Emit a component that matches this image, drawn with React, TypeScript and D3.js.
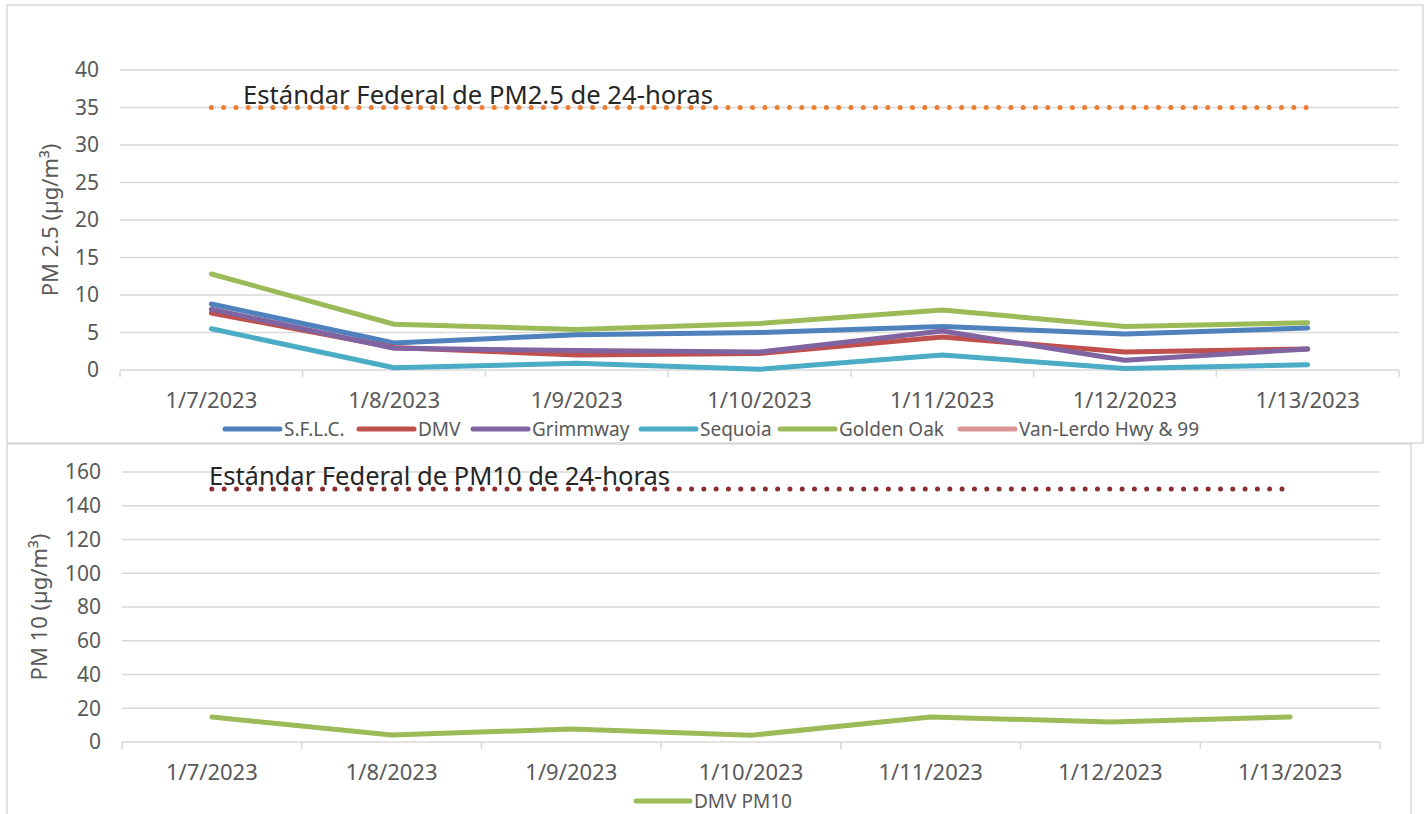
import React from 'react';
import * as d3 from 'd3';

// data
const dates = ['1/7/2023', '1/8/2023', '1/9/2023', '1/10/2023', '1/11/2023', '1/12/2023', '1/13/2023'];
const sflc = [8.8, 3.6, 4.7, 5.0, 5.8, 4.8, 5.6];
const dmv = [7.6, 3.0, 2.0, 2.2, 4.4, 2.4, 2.8];
const grimmway = [8.1, 2.9, 2.6, 2.4, 5.2, 1.3, 2.8];
const sequoia = [5.5, 0.3, 0.9, 0.1, 2.0, 0.2, 0.7];
const goldenOak = [12.8, 6.1, 5.4, 6.2, 8.0, 5.8, 6.3];
const vanLerdo: number[] = [];
const dmvPm10 = [14.8, 4.1, 7.7, 4.0, 14.8, 11.9, 14.8];
const pm25Std = 35;
const pm10Std = 150;
const pm25Ticks = [0, 5, 10, 15, 20, 25, 30, 35, 40];
const pm10Ticks = [0, 20, 40, 60, 80, 100, 120, 140, 160];

const series = [
  { name: 'S.F.L.C.', values: sflc, color: '#4F81BD' },
  { name: 'DMV', values: dmv, color: '#C0504D' },
  { name: 'Grimmway', values: grimmway, color: '#8064A2' },
  { name: 'Sequoia', values: sequoia, color: '#4BACC6' },
  { name: 'Golden Oak', values: goldenOak, color: '#9BBB59' },
  { name: 'Van-Lerdo Hwy & 99', values: vanLerdo, color: '#D99694' },
];

const font = '"Noto Sans", "Open Sans", sans-serif';
const grid = '#D9D9D9';
const txt = '#595959';

// scales
const x1 = d3.scaleBand().domain(dates).range([120, 1399]);
const y1 = d3.scaleLinear().domain([0, 40]).range([370, 70]);
const x2 = d3.scaleBand().domain(dates).range([122, 1380]);
const y2 = d3.scaleLinear().domain([0, 160]).range([742, 472]);

const Panel = ({ x, y, ticks, std, stdColor, stdLabel, labelX, labelW, title, titleX, lines }: any) => {
  const bw = x.bandwidth();
  const cx = (d: string) => x(d) + bw / 2;
  const line = d3.line<number>().x((d, i) => cx(dates[i])).y(d => y(d));
  const [x0, xEnd] = x.range();
  const y0 = y(0);
  return (
    <g>
      {ticks.map((t: number) => (
        <g key={t}>
          <line x1={x0} x2={xEnd} y1={y(t)} y2={y(t)} stroke={grid} strokeWidth={1.5} />
          <text x={x0 - 21} y={y(t)} dy="0.35em" textAnchor="end" fontSize={21} fill={txt} fontFamily={font}>{t}</text>
        </g>
      ))}
      {[...dates.map(d => x(d)), xEnd].map((v, i) => (
        <line key={i} x1={v} x2={v} y1={y0} y2={y0 + 7} stroke={grid} strokeWidth={1.5} />
      ))}
      {dates.map(d => (
        <text key={d} x={cx(d)} y={y0 + 38} textAnchor="middle" fontSize={22} fill={txt} fontFamily={font}>{d}</text>
      ))}
      <text transform={`translate(${titleX},${(y(ticks[ticks.length - 1]) + y0) / 2}) rotate(-90)`} textAnchor="middle"
        fontSize={22} fill={txt} fontFamily={font}>{title}</text>
      <line x1={cx(dates[0])} x2={cx(dates[dates.length - 1])} y1={y(std)} y2={y(std)} stroke={stdColor}
        strokeWidth={5} strokeLinecap="round" strokeDasharray="0,12.3" />
      {lines.map((s: any) => s.values.length > 0 && (
        <path key={s.name} d={line(s.values) || ''} fill="none" stroke={s.color} strokeWidth={5}
          strokeLinecap="round" strokeLinejoin="round" />
      ))}
      <text x={labelX} y={y(std) - 4} fontSize={25} fill="#262626" fontFamily={font}
        textLength={labelW} lengthAdjust="spacingAndGlyphs">{stdLabel}</text>
    </g>
  );
};

const legendX = [225, 359, 473, 641, 780, 960];

const App = () => {
  return (
    <svg width={1425} height={814} style={{ position: 'absolute', left: 0, top: 0, background: '#fff' }}>
      <rect x={7} y={5} width={1416} height={438} fill="#fff" stroke={grid} strokeWidth={1.5} />
      <rect x={7} y={444} width={1404} height={380} fill="#fff" stroke={grid} strokeWidth={1.5} />
      <Panel x={x1} y={y1} ticks={pm25Ticks} std={pm25Std} stdColor="#ED7D31"
        stdLabel="Estándar Federal de PM2.5 de 24-horas" labelX={243} labelW={470} title="PM 2.5 (µg/m³)" titleX={58}
        lines={series} />
      {series.map((s, i) => (
        <g key={s.name}>
          <line x1={legendX[i]} x2={legendX[i] + 55} y1={429} y2={429} stroke={s.color} strokeWidth={5} strokeLinecap="round" />
          <text x={legendX[i] + 59} y={429} dy="0.35em" fontSize={19} fill={txt} fontFamily={font}>{s.name}</text>
        </g>
      ))}
      <Panel x={x2} y={y2} ticks={pm10Ticks} std={pm10Std} stdColor="#8B2E2E"
        stdLabel="Estándar Federal de PM10 de 24-horas" labelX={209} labelW={461} title="PM 10 (µg/m³)" titleX={47}
        lines={[{ name: 'DMV PM10', values: dmvPm10, color: '#9BBB59' }]} />
      <line x1={636} x2={690} y1={801} y2={801} stroke="#9BBB59" strokeWidth={5} strokeLinecap="round" />
      <text x={694} y={801} dy="0.35em" fontSize={19} fill={txt} fontFamily={font}>DMV PM10</text>
    </svg>
  );
};

export default App;
